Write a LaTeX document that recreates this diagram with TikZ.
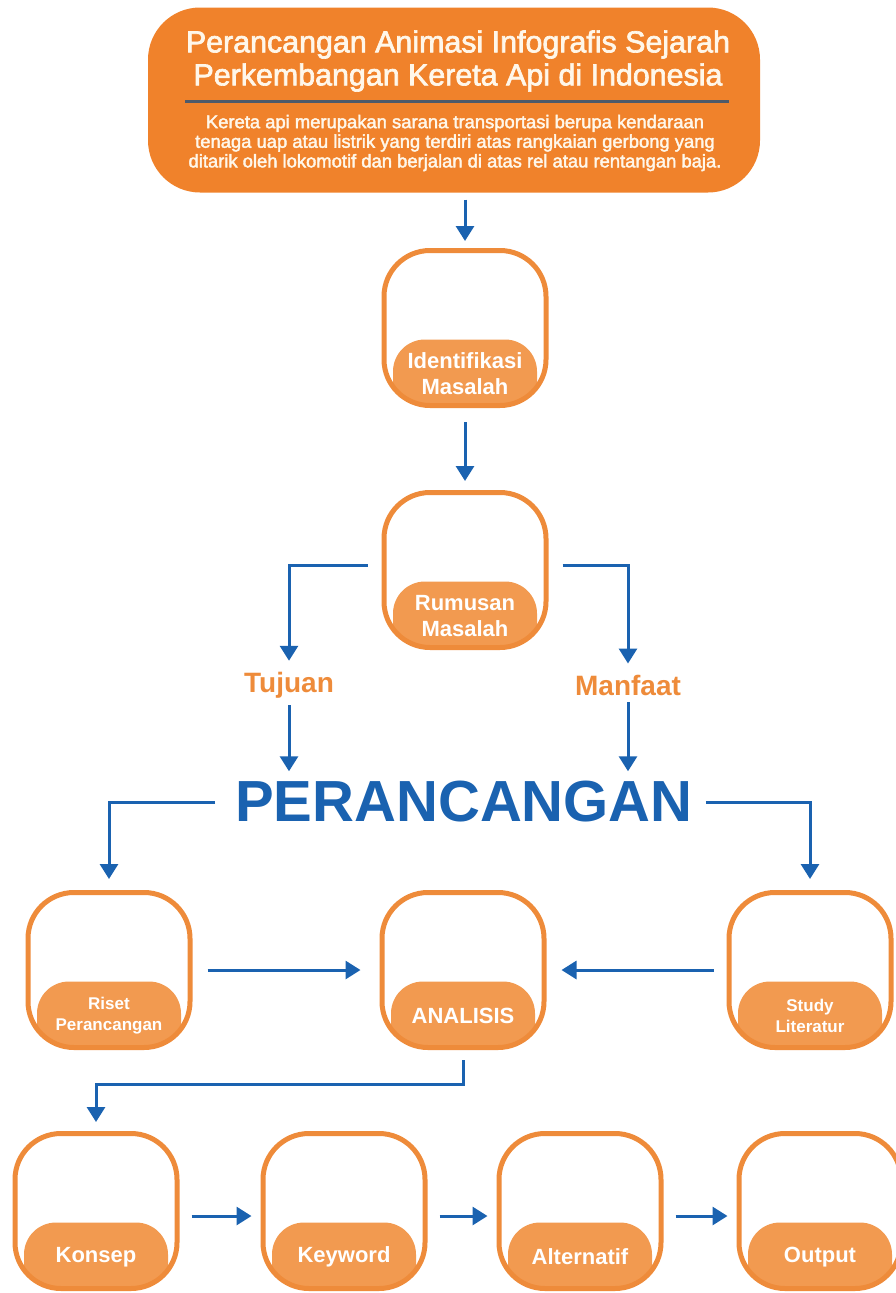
\documentclass[tikz,border=0pt]{standalone}
\usepackage{fontspec}
\setmainfont{Liberation Sans}
\newfontfamily\mediumsans[FakeBold=2.2]{Liberation Sans}
\usetikzlibrary{arrows.meta}
\usetikzlibrary{positioning}
\usetikzlibrary{calc}
\definecolor{headorange}{HTML}{F0822B}
\definecolor{lineorange}{HTML}{EE8B3A}
\definecolor{pillorange}{HTML}{F29A50}
\definecolor{flowblue}{HTML}{1A62B0}
\definecolor{rulegray}{HTML}{4E5A6A}
\definecolor{cream}{HTML}{FFF7EA}
\tikzstyle{header}=[rectangle,rounded corners=52pt,fill=headorange,minimum width=612pt,minimum height=185pt,inner sep=0pt]
\tikzstyle{stage}=[rectangle,rounded corners=46pt,draw=lineorange,line width=5pt,minimum width=162pt,minimum height=155pt,inner sep=0pt,
  path picture={\fill[pillorange,rounded corners=32pt] ([xshift=9pt,yshift=-10pt]path picture bounding box.south west) rectangle ([xshift=-9pt,yshift=66pt]path picture bounding box.south east);}]
\tikzstyle{pilltext}=[text=white,font=\bfseries\fontsize{22}{26}\selectfont,align=center,inner sep=0pt]
\tikzstyle{pillsmall}=[pilltext,font=\bfseries\fontsize{17}{21}\selectfont]
\tikzstyle{branch}=[text=lineorange,font=\bfseries\fontsize{28}{32}\selectfont,inner sep=0pt]
\tikzstyle{flow}=[draw,flowblue,line width=3pt,-{Triangle[width=18pt,length=15pt]}]

\begin{document}
\begin{tikzpicture}[x=1pt,y=-1pt]
  \useasboundingbox (0,0) rectangle (895,1293);

  % title block
  \node[header] (head) at (454,100) {};
  \node[text=cream,align=center,font=\mediumsans\fontsize{30.4}{33}\selectfont,inner sep=0pt] (title) at (458,61)
    {Perancangan Animasi Infografis Sejarah\\Perkembangan Kereta Api di Indonesia};
  \draw[rulegray,line width=3pt] (185,101) -- (729,101);
  \node[text=cream,align=center,font=\mediumsans\fontsize{18.4}{19.6}\selectfont,inner sep=0pt] (desc) at (455,143)
    {Kereta api merupakan sarana transportasi berupa kendaraan\\
     tenaga uap atau listrik yang terdiri atas rangkaian gerbong yang\\
     ditarik oleh lokomotif dan berjalan di atas rel atau rentangan baja.};

  \foreach \pos/\name in {{(465,328)/ident}, {(465,570)/rumus}, {(109,970)/riset}, {(463,970)/analisis},
      {(810,970)/study}, {(96,1211)/konsep}, {(344,1211)/keyword}, {(580,1211)/alternatif}, {(820,1211)/output}}
    \node[stage] (\name) at \pos {};

  \foreach \name/\st/\txt in {ident/pilltext/{Identifikasi\\Masalah}, rumus/pilltext/{Rumusan\\Masalah},
      riset/pillsmall/{Riset\\Perancangan}, analisis/pilltext/ANALISIS, study/pillsmall/{Study\\Literatur},
      konsep/pilltext/Konsep, keyword/pilltext/Keyword, alternatif/pilltext/Alternatif, output/pilltext/Output}
    \node[\st] (\name-text) at ([yshift=34pt]\name.south) {\txt};

  \node[branch] (tujuan) at (289,685) {Tujuan};
  \node[branch] (manfaat) at (628,685) {Manfaat};
  \node[text=flowblue,font=\bfseries\fontsize{58}{60}\selectfont,inner sep=0pt] (rancang) at (464,802) {PERANCANGAN};

  % arrows
  \path[flow] ([yshift=-7pt]head.south -| ident.north) -- ([yshift=7pt]ident.north);
  \path[flow] ([yshift=-14pt]ident.south) -- ([yshift=9pt]rumus.north);
  \path[flow] ([xshift=-14pt,yshift=5pt]rumus.west) -| ([yshift=11pt]tujuan.north);
  \path[flow] ([xshift=14pt,yshift=5pt]rumus.east) -| ([yshift=11pt]manfaat.north);
  \path[flow] ([yshift=-7pt]tujuan.south) -- ([yshift=10pt]tujuan.south |- rancang.north);
  \path[flow] ([yshift=-7pt]manfaat.south) -- ([yshift=10pt]manfaat.south |- rancang.north);
  \path[flow] ([xshift=-20pt]rancang.west) -| ([yshift=11pt]riset.north);
  \path[flow] ([xshift=13pt]rancang.east) -| ([yshift=11pt]study.north);
  \path[flow] ([xshift=15pt]riset.east) -- ([xshift=-19pt]analisis.west);
  \path[flow] ([xshift=-13pt]study.west) -- ([xshift=15pt]analisis.east);
  \path[flow] ([yshift=-10pt]analisis.south) -- ++(0,24) -| ([yshift=9pt]konsep.north);

  \foreach \source/\dest in {konsep/keyword, keyword/alternatif, alternatif/output}
    \path[flow] ([xshift=12pt,yshift=-5pt]\source.east) -- ([xshift=-9pt,yshift=-5pt]\dest.west);

\end{tikzpicture}
\end{document}
